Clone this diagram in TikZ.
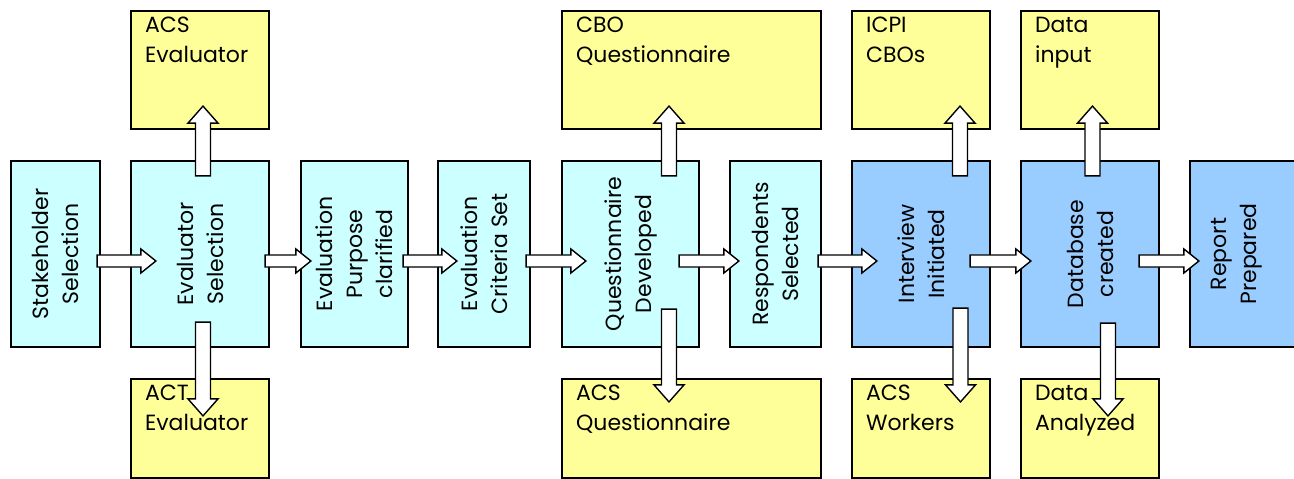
\documentclass[tikz,border=0pt]{standalone}
\usepackage{fontspec}
\setmainfont{Poppins}
\usetikzlibrary{calc}
\definecolor{stepcyan}{HTML}{CCFFFF}
\definecolor{stepblue}{HTML}{99CCFF}
\definecolor{noteyellow}{HTML}{FFFF99}
\tikzset{
  step box/.style={draw=black, line width=2.2pt, fill=stepcyan, minimum height=186pt, inner sep=0pt},
  late box/.style={step box, fill=stepblue},
  step text/.style={rotate=90, align=center, inner sep=0pt},
  note box/.style={draw=black, line width=2.2pt, fill=noteyellow, inner sep=0pt},
  note text/.style={anchor=north west, align=left, inner sep=0pt, xshift=15pt, yshift=-7pt},
  block arrow/.style n args={3}{draw=black, fill=white, line width=1.4pt,
    to path={
      ($(\tikztotarget)!#3!(\tikztostart)$) coordinate (head base)
      ($(\tikztostart)!#1!90:(\tikztotarget)$)
      -- ($(head base)!#1!90:(\tikztotarget)$)
      -- ($(head base)!#2!90:(\tikztotarget)$)
      -- (\tikztotarget)
      -- ($(head base)!#2!-90:(\tikztotarget)$)
      -- ($(head base)!#1!-90:(\tikztotarget)$)
      -- ($(\tikztostart)!#1!-90:(\tikztotarget)$)
      -- cycle}},
  flow arrow/.style={block arrow={6pt}{12pt}{15pt}},
  side arrow/.style={block arrow={7.5pt}{15pt}{17pt}}
}
\begin{document}
\begin{tikzpicture}[x=1pt, y=-1pt, font=\fontsize{22}{30}\selectfont]
\useasboundingbox (0,0) rectangle (1294,479);
\clip (0,0) rectangle (1294,479);
% main row
\node[step box, minimum width=89pt] (Stake) at (55.5,254) [label={[step text]center:Stakeholder\\Selection}] {};
\node[step box, minimum width=138pt] (EvalSel) at (200,254) [label={[step text]center:Evaluator\\Selection}] {};
\node[step box, minimum width=107pt] (Purpose) at (354.5,254) [label={[step text]center:Evaluation\\Purpose\\clarified}] {};
\node[step box, minimum width=92pt] (Criteria) at (484,254) [label={[step text]center:Evaluation\\Criteria Set}] {};
\node[step box, minimum width=137pt] (QDev) at (630.5,254) [label={[step text]center:Questionnaire\\Developed}] {};
\node[step box, minimum width=91pt] (Resp) at (775.5,254) [label={[step text]center:Respondents\\Selected}] {};
\node[late box, minimum width=138pt] (Interview) at (921,254) [label={[step text]center:Interview\\Initiated}] {};
\node[late box, minimum width=138pt] (Database) at (1090,254) [label={[step text]center:Database\\created}] {};
\node[late box, minimum width=140pt] (Report) at (1260,254) {};
\node[step text] (ReportText) at (1237,254) {Report\\Prepared};
% side boxes
\node[note box, minimum width=138pt, minimum height=118pt] (ACSEval) at (200,70) [label={[note text]north west:ACS\\Evaluator}] {};
\node[note box, minimum width=138pt, minimum height=99pt] (ACTEval) at (200,428.5) [label={[note text]north west:ACT\\Evaluator}] {};
\node[note box, minimum width=259pt, minimum height=118pt] (CBOQ) at (691.5,70) [label={[note text]north west:CBO\\Questionnaire}] {};
\node[note box, minimum width=259pt, minimum height=99pt] (ACSQ) at (691.5,428.5) [label={[note text]north west:ACS\\Questionnaire}] {};
\node[note box, minimum width=138pt, minimum height=118pt] (ICPI) at (921,70) [label={[note text]north west:ICPI\\CBOs}] {};
\node[note box, minimum width=138pt, minimum height=99pt] (ACSW) at (921,428.5) [label={[note text]north west:ACS\\Workers}] {};
\node[note box, minimum width=138pt, minimum height=118pt] (DataIn) at (1090,70) [label={[note text]north west:Data\\input}] {};
\node[note box, minimum width=138pt, minimum height=99pt] (DataAn) at (1090,428.5) [label={[note text]north west:Data\\Analyzed}] {};
% flow
\draw[flow arrow] ([shift={(-4,7)}]Stake.east) to ([shift={(26,7)}]EvalSel.west);
\draw[flow arrow] ([shift={(-5,7)}]EvalSel.east) to ([shift={(11,7)}]Purpose.west);
\draw[flow arrow] ([shift={(-6,7)}]Purpose.east) to ([shift={(20,7)}]Criteria.west);
\draw[flow arrow] ([shift={(-5,7)}]Criteria.east) to ([shift={(25,7)}]QDev.west);
\draw[flow arrow] ([shift={(-21,7)}]QDev.east) to ([shift={(10,7)}]Resp.west);
\draw[flow arrow] ([shift={(-4,7)}]Resp.east) to ([shift={(26,7)}]Interview.west);
\draw[flow arrow] ([shift={(-21,7)}]Interview.east) to ([shift={(11,7)}]Database.west);
\draw[flow arrow] ([shift={(-21,7)}]Database.east) to ([shift={(10,7)}]Report.west);
% up and down
\draw[side arrow] ([shift={(3,16)}]EvalSel.north) to ([shift={(3,-24)}]ACSEval.south);
\draw[side arrow] ([shift={(3,-26)}]EvalSel.south) to ([shift={(3,38)}]ACTEval.north);
\draw[side arrow] ([shift={(38.5,16)}]QDev.north) to ([shift={(-22.5,-24)}]CBOQ.south);
\draw[side arrow] ([shift={(38.5,-39)}]QDev.south) to ([shift={(-22.5,24)}]ACSQ.north);
\draw[side arrow] ([shift={(39,16)}]Interview.north) to ([shift={(39,-24)}]ICPI.south);
\draw[side arrow] ([shift={(39.5,-40)}]Interview.south) to ([shift={(39.5,24)}]ACSW.north);
\draw[side arrow] ([shift={(2.5,16)}]Database.north) to ([shift={(2.5,-24)}]DataIn.south);
\draw[side arrow] ([shift={(18,-25)}]Database.south) to ([shift={(18,38)}]DataAn.north);
\end{tikzpicture}
\end{document}
